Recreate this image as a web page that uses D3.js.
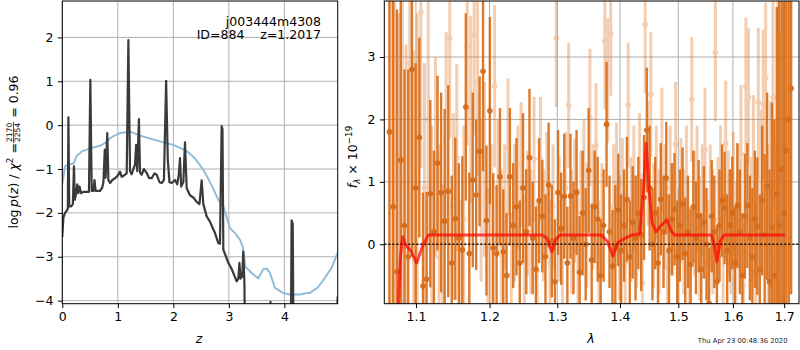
<!DOCTYPE html>
<html>
<head>
<meta charset="utf-8">
<script src="https://cdn.jsdelivr.net/npm/d3@7"></script>
<style>
  body { margin: 0; background: #fff; }
  text { font-family: "DejaVu Sans", sans-serif; }
</style>
</head>
<body>
<script>
// left panel: log p(z) and scaled chi2 curve
const zLogp = [0.00,0.02,0.05,0.08,0.10,0.11,0.125,0.16,0.19,0.21,0.225,0.25,0.27,0.29,0.31,0.34,0.38,0.44,0.48,0.505,0.53,0.56,0.58,0.60,0.68,0.72,0.74,0.765,0.78,0.81,0.83,0.86,0.90,0.95,1.00,1.04,1.07,1.13,1.16,1.19,1.22,1.25,1.28,1.31,1.33,1.35,1.38,1.40,1.43,1.47,1.52,1.56,1.61,1.66,1.70,1.75,1.79,1.83,1.87,1.90,1.93,1.97,2.03,2.07,2.10,2.12,2.14,2.18,2.21,2.24,2.30,2.36,2.42,2.47,2.51,2.54,2.60,2.66,2.71,2.75,2.81,2.84,2.87,2.885,2.90,2.95,2.99,3.04,3.08,3.14,3.17,3.19,3.21,3.24,3.26,3.28,3.30,3.74,3.75,3.76,4.11,4.13,4.15,4.17,4.90,4.96];
const logp = [-2.55,-2.10,-2.00,-1.95,-1.90,0.18,-1.85,-1.85,-1.80,-0.94,-1.70,-1.55,-1.35,-1.55,-1.40,-1.55,-1.52,-1.52,-1.52,1.03,-1.50,-1.50,-1.25,-1.50,-1.50,-1.42,-1.30,-0.56,-1.20,-0.18,-1.25,-1.32,-1.25,-1.21,-1.15,-1.06,-1.18,-1.13,-1.10,1.94,-1.05,-1.12,-1.00,-0.90,-0.45,-1.05,0.14,-1.08,-1.13,-1.00,-1.09,-1.20,-1.21,-1.10,-1.13,-1.30,-1.32,-1.25,1.01,-0.79,-1.30,-1.32,-1.25,-1.35,-1.10,-0.75,-1.40,-1.30,-0.39,-1.44,-1.60,-1.65,-1.75,-1.80,-1.26,-1.80,-2.08,-2.20,-2.35,-2.46,-2.69,-2.70,-0.02,-0.10,-2.84,-3.00,-3.14,-3.25,-3.37,-3.56,-3.50,-3.14,-3.50,-3.45,-2.88,-3.60,-6,-6,-4.03,-6,-6,-2.17,-2.25,-6,-6,-3.90];

const zChi = [0.00,0.05,0.10,0.20,0.26,0.35,0.50,0.68,0.78,0.86,0.95,1.04,1.22,1.46,1.76,2.00,2.12,2.25,2.36,2.45,2.54,2.62,2.70,2.81,2.90,3.02,3.11,3.20,3.25,3.30,3.42,3.53,3.62,3.68,3.74,3.83,3.98,4.10,4.28,4.40,4.46,4.60,4.71,4.85,4.96];
const chiCurve = [-1.35,-0.94,-0.90,-0.88,-0.70,-0.60,-0.53,-0.47,-0.40,-0.30,-0.23,-0.18,-0.15,-0.26,-0.37,-0.45,-0.52,-0.60,-0.72,-0.86,-1.02,-1.20,-1.40,-1.70,-1.85,-2.35,-2.46,-2.61,-2.77,-3.23,-3.38,-3.49,-3.28,-3.27,-3.37,-3.71,-3.83,-3.86,-3.86,-3.83,-3.82,-3.70,-3.52,-3.25,-2.90];

const zTicks = [0, 1, 2, 3, 4];
const logpTicks = [2, 1, 0, -1, -2, -3, -4];

// right panel: two spectra with error bars and the model
const darkLam0 = 1.066, lightLam0 = 1.068, lamStep = 0.0048;
const darkFlux = [1.8,0.6,-0.44,1.35,0.3,-0.2,2.8,0.9,1.71,-0.67,
 -0.56,0.81,0.2,1.3,0.83,0.37,0.85,-0.3,0.41,0.1,
 -0.09,2.2,-0.15,1.03,0.79,1.49,2.77,0.38,2.14,-0.06,
 -0.15,1.08,-0.12,-0.5,1.08,0.3,0.6,-0.3,0.9,0.2,
 1.39,0.1,-0.4,0.7,0.45,-0.2,0.95,0.05,-0.6,0.83,
 0.25,0.77,-0.3,0.77,0.1,0.83,-0.45,0.5,0.0,1.18,
 -0.25,0.6,0.4,-0.5,0.3,1.92,0.2,-0.35,-0.05,0.55,
 -0.1,0.3,0.72,-0.2,0.35,0.1,0.5,0.15,0.75,1.83,
 0.9,0.0,0.5,-0.3,0.72,0.2,1.06,-0.1,0.4,0.56,
 -0.2,0.3,0.65,-0.15,0.2,-0.33,0.6,0.1,0.45,-0.4,
 0.35,0.0,-0.95,0.45,0.2,-0.6,0.3,0.7,0.58,-0.1,
 0.3,0.5,-0.3,0.62,0.2,-0.5,0.45,0.62,0.1,-0.2,
 0.4,0.29,-0.4,0.7,0.15,0.93,-0.6,0.27,-0.5,0.8,
 0.3,1.2,0.5,1.5,2.0,2.5];
const darkErr = [5.0,4.0,4.2,3.5,2.5,3.0,3.0,2.0,1.6,1.5,
 1.4,1.5,1.3,1.4,1.6,1.8,1.7,1.4,1.3,1.2,
 1.5,1.5,1.3,1.4,1.2,1.2,1.6,1.2,1.5,1.2,
 1.1,1.1,1.0,1.0,1.1,1.0,1.1,1.0,1.2,1.0,
 1.1,0.9,1.0,1.0,0.9,1.0,1.0,0.9,1.0,1.0,
 0.9,1.0,0.9,1.0,0.9,1.0,0.9,1.0,0.9,1.0,
 0.9,0.9,1.0,0.9,0.9,1.0,0.9,0.9,1.0,0.9,
 0.9,0.9,1.0,0.9,0.9,1.0,0.9,0.9,1.0,1.0,
 1.0,0.9,0.9,0.9,0.9,0.9,0.9,0.9,0.9,0.9,
 0.9,0.9,0.9,0.9,0.9,0.9,0.9,0.9,0.9,0.9,
 0.9,0.9,0.9,0.9,0.9,0.9,0.9,0.9,0.9,0.9,
 0.9,0.9,0.9,1.0,1.0,1.0,1.0,1.0,1.0,1.1,
 1.1,1.1,1.2,1.2,1.3,1.5,1.8,2.0,2.5,3.0,
 4.0,5.0,5.0,5.0,6.0,3.3];
const lightFlux = [0.5,2.0,-0.3,1.0,0.2,2.9,0.6,1.2,3.72,0.9,
 2.0,0.1,1.4,-0.2,-0.64,1.7,3.3,0.6,1.39,-0.68,
 0.4,3.18,2.16,3.35,2.6,0.7,1.2,-0.41,0.3,2.53,
 0.9,0.1,0.6,1.56,-0.5,0.5,0.9,1.28,-0.2,0.5,
 0.2,1.36,-0.43,1.36,0.3,0.8,-0.3,0.6,3.3,0.4,
 -0.2,0.9,2.23,0.2,0.7,-0.1,0.5,1.1,0.3,2.03,
 0.6,1.58,-0.3,0.4,3.26,2.62,3.38,0.6,0.95,0.1,
 0.8,-0.3,2.23,0.4,0.9,0.2,1.1,-0.62,3.52,1.3,
 2.4,0.3,1.0,0.2,1.51,0.6,-0.2,0.9,0.4,1.6,
 -0.11,0.7,0.2,1.0,-0.4,2.32,0.5,0.9,0.1,0.7,
 1.51,-0.3,0.6,0.2,3.07,0.4,0.9,-0.2,1.62,0.5,
 0.2,0.8,-0.1,0.6,1.45,-0.66,2.53,2.36,0.4,1.29,
 -0.45,2.27,1.06,2.24,2.67,0.3,0.8,2.35,-0.3,2.35,
 0.6,1.5,0.4];
const lightErr = [5,4,4,3.5,3,3,2.5,2.5,2.5,2.0,
 2.0,1.8,1.6,1.8,1.6,1.7,1.6,1.5,1.5,1.4,
 1.5,1.6,1.5,1.6,1.5,1.3,1.4,1.3,1.3,1.3,
 1.1,1.1,1.0,1.1,1.0,1.1,1.0,1.0,1.0,1.0,
 1.0,1.0,1.1,1.0,0.9,1.0,1.0,1.0,1.1,1.0,
 1.0,0.9,1.0,1.0,1.0,1.0,1.0,0.9,1.0,1.1,
 1.0,1.0,1.0,0.9,1.1,1.0,1.0,1.0,1.0,1.0,
 0.9,1.0,1.0,1.0,1.0,0.9,1.0,1.0,1.1,1.0,
 1.0,1.0,0.9,1.0,1.0,1.0,1.0,1.0,0.9,1.0,
 1.0,1.0,1.0,0.9,1.0,1.0,1.0,1.0,1.0,0.9,
 1.0,1.0,1.0,1.0,1.1,1.0,1.0,1.0,1.0,1.0,
 1.0,1.0,1.1,1.0,1.1,1.0,1.1,1.1,1.0,1.1,
 1.1,1.2,1.1,1.2,1.2,1.3,1.5,1.7,2.0,2.3,
 2.8,3.3,4.0];

const modelLam = [1.0745,1.0774,1.0800,1.0829,1.0860,1.0930,1.1009,1.1080,1.1161,1.2764,1.2840,1.2917,1.2980,1.3045,1.3696,1.3790,1.3885,1.3960,1.4050,1.4200,1.4330,1.4390,1.4440,1.4490,1.4540,1.4610,1.4700,1.4800,1.4880,1.4935,1.5601,1.5650,1.5700,1.5760,1.5836,1.7014];
const modelFlux = [-1.2,-0.95,-0.2,0.12,0.0,-0.1,-0.3,-0.05,0.15,0.15,0.1,-0.12,0.08,0.15,0.15,0.05,-0.19,0.02,0.08,0.15,0.17,0.8,1.62,0.9,0.35,0.2,0.3,0.39,0.2,0.15,0.15,0.0,-0.28,0.05,0.15,0.15];

const lamTicks = [1.1, 1.2, 1.3, 1.4, 1.5, 1.6, 1.7];
const fluxTicks = [0, 1, 2, 3];

const w = 800, h = 350;
const fs = 12.5;
const orange = "rgb(217,108,22)";

const svg = d3.select('body').append('svg')
    .attr('width', w)
    .attr('height', h);

svg.append('rect').attr('width', w).attr('height', h).attr('fill', '#fff');

const defs = svg.append('defs');

// panel boxes
const L = {x0: 62.3, x1: 337.7, y0: 1, y1: 303.7};
const R = {x0: 384.3, x1: 799, y0: 1, y1: 303.7};

defs.append('clipPath').attr('id', 'clipL').append('rect')
    .attr('x', L.x0).attr('y', L.y0).attr('width', L.x1 - L.x0).attr('height', L.y1 - L.y0);
defs.append('clipPath').attr('id', 'clipR').append('rect')
    .attr('x', R.x0).attr('y', R.y0).attr('width', R.x1 - R.x0).attr('height', R.y1 - R.y0);

// scales
const xL = d3.scaleLinear().domain([0, 4.96]).range([L.x0, L.x1]);
const yL = d3.scaleLinear().domain([-4.07, 2.83]).range([L.y1, L.y0]);
const xR = d3.scaleLog().domain([1.0596, 1.730]).range([R.x0, R.x1]);
const yR = d3.scaleLinear().domain([-0.952, 3.897]).range([R.y1, R.y0]);

// grids
function grid(xs, ys, xt, yt, box) {
    const g = svg.append('g').attr('stroke', '#b0b0b0').attr('stroke-width', 1);
    xt.forEach(t => g.append('line').attr('x1', xs(t)).attr('x2', xs(t)).attr('y1', box.y0).attr('y2', box.y1));
    yt.forEach(t => g.append('line').attr('y1', ys(t)).attr('y2', ys(t)).attr('x1', box.x0).attr('x2', box.x1));
}
grid(xL, yL, zTicks, logpTicks, L);
grid(xR, yR, lamTicks, fluxTicks, R);

// left panel curves
const gL = svg.append('g').attr('clip-path', 'url(#clipL)');
const chiData = zChi.map((z, i) => [z, chiCurve[i]]);
const logpData = zLogp.map((z, i) => [z, logp[i]]);
const lineL = d3.line().x(d => xL(d[0])).y(d => yL(d[1]));

gL.append('path').datum(chiData)
    .attr('d', lineL)
    .attr('fill', 'none')
    .attr('stroke', '#8bbbdb')
    .attr('stroke-width', 1.9);

gL.append('path').datum(logpData)
    .attr('d', lineL)
    .attr('fill', 'none')
    .attr('stroke', '#3a3a3a')
    .attr('stroke-width', 2.2)
    .attr('stroke-linejoin', 'round');

// right panel spectra
const gR = svg.append('g').attr('clip-path', 'url(#clipR)');
const light = lightFlux.map((f, i) => ({lam: lightLam0 + i * lamStep, f: f, e: lightErr[i]}));
const dark = darkFlux.map((f, i) => ({lam: darkLam0 + i * lamStep, f: f, e: darkErr[i]}));

const gLight = gR.append('g').attr('opacity', 0.33);
gLight.selectAll('line').data(light).enter().append('line')
    .attr('x1', d => xR(d.lam)).attr('x2', d => xR(d.lam))
    .attr('y1', d => yR(d.f - d.e)).attr('y2', d => yR(d.f + d.e))
    .attr('stroke', orange).attr('stroke-width', 3);
gLight.selectAll('circle').data(light).enter().append('circle')
    .attr('cx', d => xR(d.lam)).attr('cy', d => yR(d.f))
    .attr('r', 2.8).attr('fill', orange);

const gDark = gR.append('g').attr('opacity', 0.9);
gDark.selectAll('line').data(dark).enter().append('line')
    .attr('x1', d => xR(d.lam)).attr('x2', d => xR(d.lam))
    .attr('y1', d => yR(d.f - d.e)).attr('y2', d => yR(d.f + d.e))
    .attr('stroke', orange).attr('stroke-width', 2.4);
gDark.selectAll('circle').data(dark).enter().append('circle')
    .attr('cx', d => xR(d.lam)).attr('cy', d => yR(d.f))
    .attr('r', 2.8).attr('fill', 'rgb(210,98,12)');

// zero line
gR.append('line')
    .attr('x1', R.x0).attr('x2', R.x1)
    .attr('y1', yR(0)).attr('y2', yR(0))
    .attr('stroke', '#111').attr('stroke-width', 1.6)
    .attr('stroke-dasharray', '2,2');

// model
const modelData = modelLam.map((l, i) => [l, modelFlux[i]]);
gR.append('path').datum(modelData)
    .attr('d', d3.line().x(d => xR(d[0])).y(d => yR(d[1])))
    .attr('fill', 'none')
    .attr('stroke', 'red')
    .attr('stroke-opacity', 0.7)
    .attr('stroke-width', 3)
    .attr('stroke-linejoin', 'round');

// axes
function styleAxis(g) {
    g.select('.domain').remove();
    g.selectAll('text').attr('font-size', fs).attr('fill', '#000').attr('font-family', '"DejaVu Sans"');
    g.selectAll('line').attr('stroke', '#000').attr('stroke-width', 1);
}
const fmtL = d => d < 0 ? '\u2212' + Math.abs(d) : String(d);

svg.append('g').attr('transform', `translate(0,${L.y1})`)
    .call(d3.axisBottom(xL).tickValues(zTicks).tickSize(4.4).tickPadding(4.4).tickFormat(fmtL))
    .call(styleAxis);
svg.append('g').attr('transform', `translate(${L.x0},0)`)
    .call(d3.axisLeft(yL).tickValues(logpTicks).tickSize(4.4).tickPadding(4.4).tickFormat(fmtL))
    .call(styleAxis);
svg.append('g').attr('transform', `translate(0,${R.y1})`)
    .call(d3.axisBottom(xR).tickValues(lamTicks).tickSize(4.4).tickPadding(4.4).tickFormat(d3.format('.1f')))
    .call(styleAxis);
svg.append('g').attr('transform', `translate(${R.x0},0)`)
    .call(d3.axisLeft(yR).tickValues(fluxTicks).tickSize(4.4).tickPadding(4.4).tickFormat(fmtL))
    .call(styleAxis);

// frames
[L, R].forEach(b => {
    svg.append('rect')
        .attr('x', b.x0).attr('y', b.y0)
        .attr('width', b.x1 - b.x0).attr('height', b.y1 - b.y0)
        .attr('fill', 'none').attr('stroke', '#000').attr('stroke-width', 1);
});

// annotation in left panel
svg.append('text').attr('x', 321).attr('y', 25.5).attr('text-anchor', 'end')
    .attr('font-size', fs).text('j003444m4308');
svg.append('text').attr('x', 321).attr('y', 39.3).attr('text-anchor', 'end')
    .attr('font-size', fs).attr('xml:space', 'preserve').text('ID=884    z=1.2017');

// x labels
svg.append('text').attr('x', 199).attr('y', 343).attr('text-anchor', 'middle')
    .attr('font-size', fs).attr('font-style', 'italic').text('z');
svg.append('text').attr('x', 591).attr('y', 343).attr('text-anchor', 'middle')
    .attr('font-size', fs).attr('font-style', 'italic').text('\u03bb');

// left y label with stacked fraction
const yl = svg.append('g');
const t1 = yl.append('text').attr('font-size', fs);
t1.append('tspan').text('log\u2009');
t1.append('tspan').attr('font-style', 'italic').text('p');
t1.append('tspan').text('(');
t1.append('tspan').attr('font-style', 'italic').text('z');
t1.append('tspan').text(') / ');
t1.append('tspan').attr('font-style', 'italic').text('\u03c7');
t1.append('tspan').attr('font-size', 8.8).attr('dy', -5).text('2');
t1.append('tspan').attr('dy', 5).text(' = ');
const len1 = t1.node().getComputedTextLength();
const fracFs = 7.6;
const num = yl.append('text').attr('font-size', fracFs).attr('text-anchor', 'middle').text('2170');
const den = yl.append('text').attr('font-size', fracFs).attr('text-anchor', 'middle').text('2254');
const fracW = Math.max(num.node().getComputedTextLength(), den.node().getComputedTextLength()) + 2;
const fc = len1 + fracW / 2;
num.attr('x', fc).attr('y', -6.2);
den.attr('x', fc).attr('y', 2.2);
yl.append('line').attr('x1', len1).attr('x2', len1 + fracW)
    .attr('y1', -4.3).attr('y2', -4.3).attr('stroke', '#000').attr('stroke-width', 0.7);
const t2 = yl.append('text').attr('font-size', fs).attr('x', len1 + fracW).attr('xml:space', 'preserve').text(' = 0.96');
const totalLen = len1 + fracW + t2.node().getComputedTextLength();
yl.attr('transform', `translate(17.8,152) rotate(-90) translate(${-totalLen / 2},0)`);

// right y label
const yr = svg.append('text').attr('font-size', fs).attr('text-anchor', 'middle')
    .attr('transform', 'translate(357,157) rotate(-90)');
yr.append('tspan').attr('font-style', 'italic').text('f');
yr.append('tspan').attr('font-style', 'italic').attr('font-size', 8.8).attr('dy', 2.5).text('\u03bb');
yr.append('tspan').attr('dy', -2.5).text(' \u00d7 10');
yr.append('tspan').attr('font-size', 8.8).attr('dy', -5).text('\u221219');

// timestamp
svg.append('text').attr('x', 787.5).attr('y', 342.5).attr('text-anchor', 'end')
    .attr('font-size', 6.8).attr('fill', '#222').text('Thu Apr 23 00:48:36 2020');
</script>
</body>
</html>
